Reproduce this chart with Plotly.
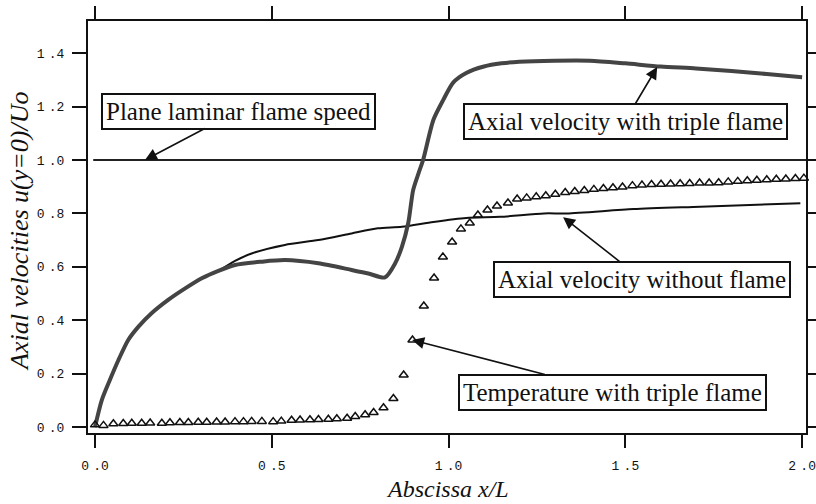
import plotly.graph_objects as go

# Axial velocity with triple flame
tf_x = [0.0, 0.019, 0.042, 0.066, 0.094, 0.123, 0.16, 0.207, 0.255, 0.302, 0.349, 0.396,
        0.471, 0.537, 0.632, 0.726, 0.773, 0.82, 0.849, 0.868, 0.886, 0.9, 0.915, 0.928,
        0.957, 0.985, 1.013, 1.05, 1.1, 1.15, 1.2, 1.3, 1.4, 1.5, 1.6, 1.7, 1.8, 1.9, 2.0]
tf_y = [0.0, 0.10, 0.176, 0.25, 0.326, 0.376, 0.426, 0.476, 0.519, 0.557, 0.585, 0.607,
        0.619, 0.625, 0.613, 0.588, 0.575, 0.56, 0.613, 0.675, 0.764, 0.888, 0.95, 1.0,
        1.15, 1.225, 1.29, 1.326, 1.35, 1.362, 1.368, 1.372, 1.372, 1.362, 1.35, 1.343,
        1.333, 1.322, 1.31]

# Axial velocity without flame
nf_x = [0.0, 0.019, 0.042, 0.066, 0.094, 0.123, 0.16, 0.207, 0.255, 0.302, 0.349, 0.396,
        0.443, 0.537, 0.632, 0.726, 0.80, 0.868, 0.957, 1.05, 1.146, 1.27, 1.335, 1.523,
        1.712, 1.995]
nf_y = [0.0, 0.10, 0.176, 0.25, 0.326, 0.376, 0.426, 0.476, 0.519, 0.557, 0.585, 0.622,
        0.65, 0.682, 0.70, 0.725, 0.744, 0.75, 0.768, 0.783, 0.787, 0.80, 0.80, 0.816,
        0.825, 0.838]

# Temperature with triple flame (triangles)
tt_x = [0.0, 0.024, 0.052, 0.08, 0.104, 0.132, 0.156, 0.189, 0.212, 0.24, 0.264, 0.292,
        0.316, 0.344, 0.368, 0.396, 0.42, 0.443, 0.472, 0.504, 0.527, 0.556, 0.58, 0.608,
        0.632, 0.66, 0.684, 0.713, 0.736, 0.764, 0.788, 0.816, 0.844, 0.873, 0.898, 0.93,
        0.959, 0.984, 1.01, 1.035, 1.06, 1.083, 1.11, 1.137, 1.168, 1.194, 1.221, 1.248,
        1.275, 1.302, 1.33, 1.357, 1.384, 1.411, 1.438, 1.465, 1.492, 1.52, 1.547, 1.574,
        1.601, 1.628, 1.655, 1.682, 1.71, 1.737, 1.764, 1.791, 1.818, 1.845, 1.872, 1.9,
        1.927, 1.954, 1.981, 2.005]
tt_y = [0.008, 0.006, 0.012, 0.013, 0.014, 0.014, 0.015, 0.014, 0.016, 0.017, 0.017, 0.018,
        0.018, 0.019, 0.019, 0.02, 0.02, 0.021, 0.021, 0.02, 0.022, 0.025, 0.026, 0.027,
        0.028, 0.029, 0.031, 0.033, 0.039, 0.046, 0.054, 0.072, 0.107, 0.195, 0.326, 0.453,
        0.558, 0.637, 0.693, 0.742, 0.764, 0.794, 0.813, 0.828, 0.839, 0.854, 0.858, 0.862,
        0.866, 0.872, 0.878, 0.882, 0.886, 0.89, 0.893, 0.896, 0.899, 0.904, 0.906, 0.908,
        0.909, 0.91, 0.911, 0.912, 0.914, 0.914, 0.915, 0.918, 0.92, 0.922, 0.924, 0.926,
        0.928, 0.929, 0.931, 0.932]

# Plane laminar flame speed
pl_x = [-0.005, 2.011]
pl_y = [1.0, 1.0]

x_ticks = [0.0, 0.5, 1.0, 1.5, 2.0]
x_labels = ["0\u2004.0", "0\u2004.5", "1\u2004.0", "1\u2004.5", "2\u2004.0"]
y_ticks = [0.0, 0.2, 0.4, 0.6, 0.8, 1.0, 1.2, 1.4]
y_labels = ["0\u2004.0", "0\u2004.2", "0\u2004.4", "0\u2004.6", "0\u2004.8", "1\u2004.0",
            "1\u2004.2", "1\u2004.4"]

fig = go.Figure()
fig.add_trace(go.Scatter(x=pl_x, y=pl_y, mode="lines",
                         line=dict(color="#222", width=2), showlegend=False))
fig.add_trace(go.Scatter(x=nf_x, y=nf_y, mode="lines",
                         line=dict(color="#111", width=2, shape="spline", smoothing=0.7),
                         showlegend=False))
fig.add_trace(go.Scatter(x=tf_x, y=tf_y, mode="lines",
                         line=dict(color="#444", width=4, shape="spline", smoothing=0.7),
                         showlegend=False))
fig.add_trace(go.Scatter(x=tt_x, y=tt_y, mode="markers",
                         marker=dict(symbol="triangle-up-open", size=8, color="#111",
                                     line=dict(width=1.5, color="#111")),
                         showlegend=False, cliponaxis=False))

serif = "Liberation Serif, Times New Roman, serif"
box = dict(showarrow=True, arrowhead=2, arrowsize=1.5, arrowwidth=1.6, arrowcolor="#111",
           axref="x", ayref="y", bgcolor="white", bordercolor="#111", borderwidth=2,
           borderpad=3, font=dict(family=serif, size=25, color="#111"))

annots = [
    dict(text="Plane laminar flame speed", x=0.1414, y=1.0, ax=0.4045, ay=1.1835, **box),
    dict(text="Axial velocity with triple flame", x=1.59, y=1.348, ax=1.4993, ay=1.146, **box),
    dict(text="Axial velocity without flame", x=1.324, y=0.786, ax=1.547, ay=0.554, **box),
    dict(text="Temperature with triple flame", x=0.897, y=0.326, ax=1.4625, ay=0.131, **box),
    dict(text="<i>Abscissa x/L</i>", xref="paper", yref="paper", x=0.501, y=-0.1,
         yanchor="top", showarrow=False, font=dict(family=serif, size=24, color="#111")),
    dict(text="<i>Axial velocities u(y=0)/Uo</i>", xref="paper", yref="paper", x=-0.0947,
         y=0.488, xanchor="center", yanchor="middle", textangle=-90, showarrow=False,
         font=dict(family=serif, size=26, color="#111")),
]

tickfont = dict(family="Liberation Mono, Courier New, monospace", size=13, color="#111")
axis_common = dict(showgrid=False, zeroline=False, showline=True, linecolor="#111",
                   linewidth=2, mirror="ticks", ticks="outside", tickwidth=2,
                   tickcolor="#111", tickfont=tickfont, automargin=False,
                   ticklabeloverflow="allow")

fig.update_layout(
    width=816, height=504,
    margin=dict(l=88, r=10, t=21, b=71, autoexpand=False),
    paper_bgcolor="white", plot_bgcolor="white",
    annotations=annots,
    xaxis=dict(range=[-0.0198, 2.011], tickvals=x_ticks, ticktext=x_labels, ticklen=13,
               ticklabelstandoff=6, **axis_common),
    yaxis=dict(range=[-0.0225, 1.5206], tickvals=y_ticks, ticktext=y_labels, ticklen=14,
               ticklabelstandoff=5, **axis_common),
)

fig.write_html("out.html", config={"displayModeBar": False},
               post_script="document.body.style.margin='0';document.body.style.padding='0';"
                           "document.documentElement.style.overflow='hidden';")
